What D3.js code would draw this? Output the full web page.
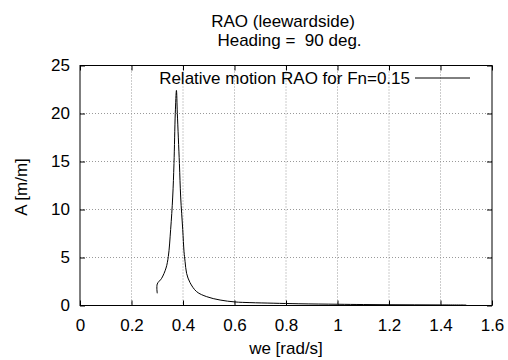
<!DOCTYPE html>
<html>
<head>
<meta charset="utf-8">
<script src="https://cdn.jsdelivr.net/npm/d3@7"></script>
<style>
  body { margin: 0; background: #fff; }
  text { font-family: "Liberation Sans", Arial, sans-serif; fill: #000; }
</style>
</head>
<body>
<svg id="chart" width="508" height="360"></svg>
<script>
// values
var we  = [0.300, 0.300, 0.317, 0.334, 0.343, 0.352, 0.360, 0.365, 0.370, 0.3745,
           0.378, 0.386, 0.391, 0.399, 0.404, 0.408, 0.414, 0.427, 0.453, 0.492,
           0.544, 0.602, 0.66, 0.75, 0.85, 1.00, 1.10, 1.20, 1.30, 1.40, 1.50];
var rao = [1.27, 2.24, 2.83, 3.9, 5.1, 7.9, 11.3, 14.8, 20.0, 22.4,
           20.0, 14.8, 11.3, 7.9, 5.6, 4.6, 3.35, 2.4, 1.44, 0.92,
           0.57, 0.37, 0.30, 0.24, 0.18, 0.13, 0.10, 0.08, 0.07, 0.06, 0.05];
var xTicks = [0, 0.2, 0.4, 0.6, 0.8, 1, 1.2, 1.4, 1.6];
var yTicks = [0, 5, 10, 15, 20, 25];

var svg = d3.select("#chart");
var pLeft = 80, pRight = 492, pTop = 65.5, pBottom = 305.5;
var fs = 17;

var x = d3.scaleLinear().domain([0, 1.6]).range([pLeft, pRight]);
var y = d3.scaleLinear().domain([0, 25]).range([pBottom, pTop]);

// grid
svg.selectAll(".gx").data(xTicks.slice(1, -1)).enter().append("line")
  .attr("x1", d => x(d)).attr("x2", d => x(d))
  .attr("y1", pTop).attr("y2", pBottom)
  .attr("stroke", "#999").attr("stroke-width", 1).attr("stroke-dasharray", "1,2");
svg.selectAll(".gy").data(yTicks.slice(1, -1)).enter().append("line")
  .attr("x1", pLeft).attr("x2", pRight)
  .attr("y1", d => y(d)).attr("y2", d => y(d))
  .attr("stroke", "#999").attr("stroke-width", 1).attr("stroke-dasharray", "1,2");

// axes with inward ticks, mirrored
svg.append("g").attr("transform", "translate(0," + pBottom + ")")
  .call(d3.axisBottom(x).tickValues(xTicks).tickSize(-5).tickPadding(13).tickFormat(d3.format("")));
svg.append("g").attr("transform", "translate(0," + pTop + ")")
  .call(d3.axisTop(x).tickValues(xTicks).tickSize(-5).tickFormat(""));
svg.append("g").attr("transform", "translate(" + pLeft + ",0)")
  .call(d3.axisLeft(y).tickValues(yTicks).tickSize(-5).tickPadding(10));
svg.append("g").attr("transform", "translate(" + pRight + ",0)")
  .call(d3.axisRight(y).tickValues(yTicks).tickSize(-5).tickFormat(""));

svg.selectAll(".domain").remove();
svg.selectAll(".tick line").attr("stroke", "#000");
svg.selectAll(".tick text").attr("font-size", fs).attr("font-family", "Liberation Sans, Arial, sans-serif");

svg.append("rect").attr("x", pLeft).attr("y", pTop)
  .attr("width", pRight - pLeft).attr("height", pBottom - pTop)
  .attr("fill", "none").attr("stroke", "#000").attr("stroke-width", 1);

// curve
var line = d3.line().x((d, i) => x(we[i])).y((d, i) => y(rao[i]))
  .curve(d3.curveCatmullRom.alpha(0.5));
svg.append("path").datum(rao).attr("d", line)
  .attr("fill", "none").attr("stroke", "#000").attr("stroke-width", 1);

// legend
svg.append("text").attr("x", 410).attr("y", 84).attr("text-anchor", "end")
  .attr("font-size", fs).text("Relative motion RAO for Fn=0.15");
svg.append("line").attr("x1", 415).attr("x2", 470).attr("y1", 78).attr("y2", 78)
  .attr("stroke", "#000").attr("stroke-width", 1);

// titles
svg.append("text").attr("x", 283).attr("y", 26.5).attr("text-anchor", "middle")
  .attr("font-size", fs).text("RAO (leewardside)");
svg.append("text").attr("x", 289.5).attr("y", 45.5).attr("text-anchor", "middle")
  .attr("font-size", fs).style("white-space", "pre")
  .text("Heading =  90 deg.");
svg.append("text").attr("x", 286).attr("y", 354).attr("text-anchor", "middle")
  .attr("font-size", fs).text("we [rad/s]");
svg.append("text").attr("transform", "translate(27,187) rotate(-90)")
  .attr("text-anchor", "middle").attr("font-size", fs).text("A [m/m]");
</script>
</body>
</html>
